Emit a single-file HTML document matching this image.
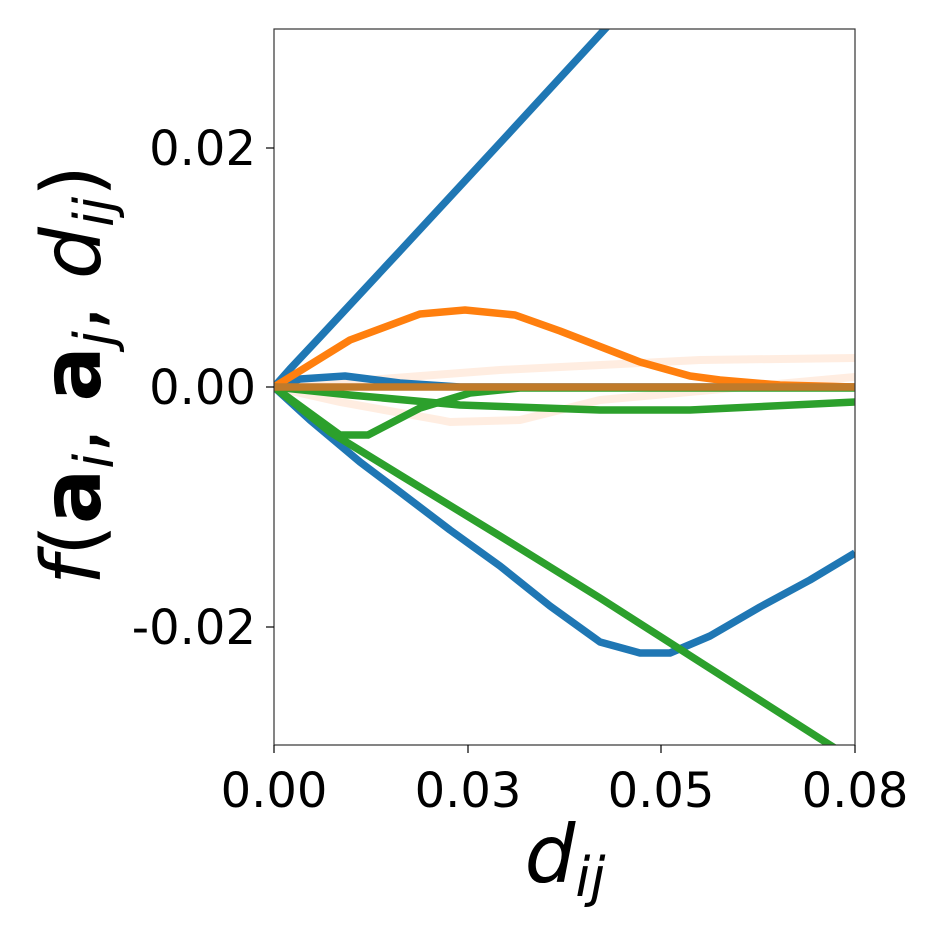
<!DOCTYPE html>
<html><head><style>body{margin:0;background:#fff}</style></head><body>
<svg width="940" height="940" xmlns="http://www.w3.org/2000/svg" font-family="'DejaVu Sans','Liberation Sans',sans-serif">
<defs><clipPath id="c"><rect x="274" y="29" width="581" height="716"/></clipPath></defs>
<g clip-path="url(#c)" fill="none" stroke-width="7.5" stroke-linejoin="round">
<polyline stroke="#ffe6d4" stroke-opacity="0.7" stroke-width="8" points="274,387 500,370 700,360 855,358"/>
<polyline stroke="#ffe6d4" stroke-opacity="0.7" stroke-width="8" points="274,387 340,402 440,420 450,422 520,420 600,400 855,377"/>
<polyline stroke="#1f77b4" points="274,387 290,369 320,337 400,251 500,143 605,29 620,13"/>
<polyline stroke="#1f77b4" points="274,387 300,379 345,376 400,383 460,387 855,387"/>
<polyline stroke="#1f77b4" points="274,387 310,420 360,462 400,492 450,530 500,566 550,606 600,642 640,653 670,653 710,636 760,607 810,580 855,553"/>
<polyline stroke="#ff7f0e" points="274,387 350,340 420,314 465,310 515,315 560,331 640,362 690,376 720,380 780,385 855,387"/>
<polyline stroke="#2ca02c" points="274,387 350,395 460,405 600,410 690,410 855,402"/>
<polyline stroke="#2ca02c" points="274,387 340,435 368,435 420,408 470,393 520,388 855,388"/>
<polyline stroke="#2ca02c" points="274,387 330,432 400,475 500,536 600,598 700,662 830,745 860,764"/>
<polyline stroke="#c07a2a" points="274,387 855,387"/>
</g>
<rect x="274" y="29" width="581" height="716" fill="none" stroke="#333" stroke-width="1.2"/>
<g stroke="#000" stroke-width="1.2">
<line x1="266" y1="148" x2="274" y2="148"/><line x1="266" y1="387" x2="274" y2="387"/><line x1="266" y1="627" x2="274" y2="627"/>
<line x1="274" y1="745" x2="274" y2="753"/><line x1="468" y1="745" x2="468" y2="753"/><line x1="661" y1="745" x2="661" y2="753"/><line x1="855" y1="745" x2="855" y2="753"/>
</g>
<g font-size="48" fill="#000">
<g text-anchor="end"><text x="256" y="165">0.02</text><text x="256" y="404">0.00</text><text x="256" y="644">-0.02</text></g>
<g text-anchor="middle"><text x="274" y="807">0.00</text><text x="468" y="807">0.03</text><text x="661" y="807">0.05</text><text x="855" y="807">0.08</text></g>
</g>
<text x="565" y="882" font-size="80" font-style="italic" text-anchor="middle">d<tspan font-size="54" dy="14">ij</tspan></text>
<text transform="translate(100,375) rotate(-90)" font-size="82" text-anchor="middle"><tspan font-style="italic">f</tspan>(<tspan font-weight="bold">a</tspan><tspan font-size="54" dy="13" font-style="italic">i</tspan><tspan dy="-13">, </tspan><tspan font-weight="bold">a</tspan><tspan font-size="54" dy="13" font-style="italic">j</tspan><tspan dy="-13">, </tspan><tspan font-style="italic">d</tspan><tspan font-size="54" dy="13" font-style="italic">ij</tspan><tspan dy="-13">)</tspan></text>
</svg>
</body></html>
